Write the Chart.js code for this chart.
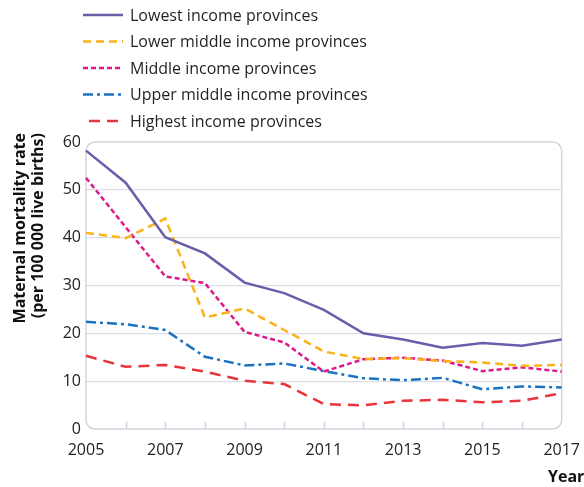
<!DOCTYPE html>
<html lang="en">
<head>
<meta charset="UTF-8">
<title>Maternal mortality rate by province income group</title>
<style>
    * { margin: 0; padding: 0; box-sizing: border-box; }
    body { background: #fff; width: 584px; height: 487px; overflow: hidden; }
    .wrap { position: relative; width: 584px; height: 487px; }
</style>
</head>
<body>
<div class="wrap"><canvas id="mmr" width="584" height="487"></canvas></div>

<script src="https://cdn.jsdelivr.net/npm/chart.js"></script>
<script>
    // Data
    const years = ['2005', '2006', '2007', '2008', '2009', '2010', '2011', '2012', '2013', '2014', '2015', '2016', '2017'];
    const lowest      = [58.2, 51.5, 40.1, 36.7, 30.6, 28.4, 24.9, 20.0, 18.7, 17.0, 18.0, 17.4, 18.7];
    const lowerMiddle = [41.0, 39.9, 44.0, 23.3, 25.2, 20.7, 16.2, 14.6, 14.8, 14.2, 13.9, 13.2, 13.4];
    const middle      = [52.5, 42.2, 31.9, 30.5, 20.3, 18.1, 12.0, 14.6, 14.9, 14.3, 12.1, 12.9, 12.0];
    const upperMiddle = [22.4, 21.9, 20.7, 15.1, 13.3, 13.7, 12.1, 10.6, 10.2, 10.7, 8.3, 8.9, 8.7];
    const highest     = [15.3, 13.0, 13.4, 12.0, 10.1, 9.4, 5.2, 4.95, 5.9, 6.1, 5.6, 5.9, 7.5];
    const yTicks = [0, 10, 20, 30, 40, 50, 60];
    const yTitle = ['Maternal mortality rate', '(per 100 000 live births)'];

    const FONT = '"Open Sans", Lato, sans-serif';
    const frameColor = '#d3d4de';

    // Legend, axis titles drawn around the plot
    const legendPlugin = {
        id: 'topLegend',
        afterDraw(chart) {
            const ctx = chart.ctx;
            ctx.save();
            chart.data.datasets.forEach((ds, i) => {
                const y = 15 + i * 26.5;
                ctx.beginPath();
                ctx.strokeStyle = ds.borderColor;
                ctx.lineWidth = 2.5;
                ctx.setLineDash(ds.borderDash || []);
                ctx.moveTo(ds.legendStart || 83, y);
                ctx.lineTo(123, y);
                ctx.stroke();
                ctx.setLineDash([]);
                ctx.fillStyle = '#231f20';
                ctx.font = '16px ' + FONT;
                ctx.textBaseline = 'middle';
                ctx.fillText(ds.label, 130, y + 1);
            });

            // y title, two lines, rotated, ending near the top of the plot
            ctx.save();
            ctx.translate(0, 0);
            ctx.rotate(-Math.PI / 2);
            ctx.font = 'bold 16px ' + FONT;
            ctx.fillStyle = '#111';
            ctx.textAlign = 'right';
            ctx.textBaseline = 'middle';
            ctx.fillText(yTitle[0], -133, 20);
            ctx.fillText(yTitle[1], -133, 38);
            ctx.restore();

            // x title, bottom right
            ctx.font = 'bold 16px ' + FONT;
            ctx.fillStyle = '#111';
            ctx.textBaseline = 'middle';
            ctx.fillText('Year', 548, 477);
            ctx.restore();
        }
    };

    // Rounded frame and the small year ticks inside it
    const framePlugin = {
        id: 'frame',
        beforeDatasetsDraw(chart) {
            const { ctx, chartArea: a } = chart;
            const x = chart.scales.x;
            ctx.save();
            ctx.strokeStyle = frameColor;
            ctx.lineWidth = 1.5;
            ctx.beginPath();
            ctx.roundRect(a.left, a.top, a.right - a.left, a.bottom - a.top, 9);
            ctx.stroke();
            ctx.beginPath();
            for (let i = 1; i < years.length - 1; i++) {
                const px = Math.round(x.getPixelForTick(i)) + 0.5;
                ctx.moveTo(px, a.bottom);
                ctx.lineTo(px, a.bottom - 7);
            }
            ctx.stroke();
            ctx.restore();
        }
    };

    new Chart(document.getElementById('mmr'), {
        type: 'line',
        data: {
            labels: years,
            datasets: [
                { label: 'Lowest income provinces', data: lowest, borderColor: '#6c5cab', borderDash: [] },
                { label: 'Lower middle income provinces', data: lowerMiddle, borderColor: '#fbb117', borderDash: [8, 5] },
                { label: 'Middle income provinces', data: middle, borderColor: '#dd1a8d', borderDash: [5, 3] },
                { label: 'Upper middle income provinces', data: upperMiddle, borderColor: '#1a72c0', borderDash: [10, 4, 3, 4] },
                { label: 'Highest income provinces', data: highest, borderColor: '#e8353b', borderDash: [11, 7], legendStart: 89 }
            ]
        },
        options: {
            responsive: false,
            animation: false,
            layout: { padding: { top: 142, left: 0, right: 0, bottom: 0 } },
            elements: {
                point: { radius: 0 },
                line: { borderWidth: 2.5, tension: 0, fill: false }
            },
            plugins: {
                legend: { display: false },
                tooltip: { enabled: false }
            },
            scales: {
                x: {
                    grid: { display: false },
                    border: { display: false },
                    ticks: {
                        autoSkip: false,
                        maxRotation: 0,
                        padding: 4,
                        color: '#222',
                        font: { family: FONT, size: 16 },
                        callback(v, i) { return i % 2 === 0 ? this.getLabelForValue(v) : ''; }
                    },
                    afterFit(s) { s.height = 58; }
                },
                y: {
                    min: 0,
                    max: 60,
                    afterBuildTicks(s) { s.ticks = yTicks.map(v => ({ value: v })); },
                    grid: {
                        drawTicks: false,
                        lineWidth: 1.2,
                        color: c => (c.tick.value === 0 || c.tick.value === 60) ? 'rgba(0,0,0,0)' : '#dcdde6'
                    },
                    border: { display: false },
                    ticks: {
                        padding: 5,
                        color: '#222',
                        font: { family: FONT, size: 16 }
                    },
                    afterFit(s) { s.width = 86; }
                }
            }
        },
        plugins: [framePlugin, legendPlugin]
    });
</script>
</body>
</html>
